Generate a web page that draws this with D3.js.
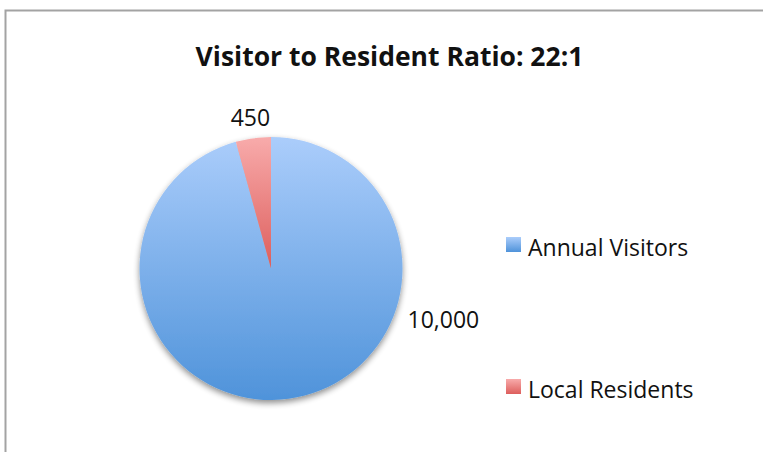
<!DOCTYPE html>
<html>
<head>
<meta charset="utf-8">
<script src="https://cdn.jsdelivr.net/npm/d3@7"></script>
<style>
  html, body { margin: 0; padding: 0; background: #fff; overflow: hidden; }
  svg { display: block; }
  text { font-family: "Open Sans", "Liberation Sans", sans-serif; fill: #111; }
</style>
</head>
<body>
<svg id="chart" width="763" height="452"></svg>
<script>
// Chart data
const categories = ["Annual Visitors", "Local Residents"];
const values = [10000, 450];
const valueLabels = ["10,000", "450"];
const title = "Visitor to Resident Ratio: 22:1";

const W = 763, H = 452;
const svg = d3.select("#chart");
const defs = svg.append("defs");

// Gradient fills for each series (light at top, darker at bottom)
const gradStops = [
  ["#abcdfb", "#4f93da"],
  ["#f8abab", "#dd5e5c"]
];
categories.forEach((c, i) => {
  const g = defs.append("linearGradient")
    .attr("id", "grad" + i)
    .attr("x1", 0).attr("y1", 0).attr("x2", 0).attr("y2", 1);
  g.append("stop").attr("offset", "0%").attr("stop-color", gradStops[i][0]);
  g.append("stop").attr("offset", "100%").attr("stop-color", gradStops[i][1]);
});

// Soft shadow under the pie
const shadow = defs.append("filter").attr("id", "shadow")
  .attr("x", "-20%").attr("y", "-20%").attr("width", "140%").attr("height", "140%");
shadow.append("feGaussianBlur").attr("in", "SourceAlpha").attr("stdDeviation", 3).attr("result", "blur");
shadow.append("feOffset").attr("in", "blur").attr("dx", 0).attr("dy", 3).attr("result", "off");
shadow.append("feComponentTransfer").attr("in", "off").attr("result", "shade")
  .append("feFuncA").attr("type", "linear").attr("slope", 0.45);
const merge = shadow.append("feMerge");
merge.append("feMergeNode").attr("in", "shade");
merge.append("feMergeNode").attr("in", "SourceGraphic");

// Chart frame (open at right and bottom edges of the view)
svg.append("path")
  .attr("d", `M5.5,${H + 5} V10.5 H${W + 5}`)
  .attr("fill", "none")
  .attr("stroke", "#a3a3a3")
  .attr("stroke-width", 2);

// Title
svg.append("text")
  .attr("x", 389.5).attr("y", 66)
  .attr("text-anchor", "middle")
  .attr("font-weight", "bold")
  .attr("font-size", 26.5)
  .text(title);

// Pie
const cx = 271, cy = 268.5, R = 131.5;
const pie = d3.pie().sort(null).value(d => d)(values);
const arc = d3.arc().innerRadius(0).outerRadius(R);

// Blue gradient spans the whole pie, red uses its own slice box
const full = defs.append("linearGradient")
  .attr("id", "gradFull")
  .attr("gradientUnits", "userSpaceOnUse")
  .attr("x1", 0).attr("y1", -R).attr("x2", 0).attr("y2", R);
full.append("stop").attr("offset", "0%").attr("stop-color", gradStops[0][0]);
full.append("stop").attr("offset", "100%").attr("stop-color", gradStops[0][1]);

const pieG = svg.append("g").attr("transform", `translate(${cx},${cy})`);
const slicesG = pieG.append("g").attr("filter", "url(#shadow)");

slicesG.selectAll("path.slice")
  .data(pie)
  .join("path")
  .attr("class", "slice")
  .attr("d", arc)
  .attr("fill", (d, i) => i === 0 ? "url(#gradFull)" : "url(#grad1)");

// Data labels: the small slice is labelled outside its mid-angle,
// the large slice is labelled beside the pie's right edge.
const labelAngle = [Math.PI * 0.59, null];
pie.forEach((d, i) => {
  const a = labelAngle[i] !== null ? labelAngle[i] : (d.startAngle + d.endAngle) / 2;
  const rr = i === 0 ? R + 48 : R + 21;
  const x = Math.sin(a) * rr;
  const y = -Math.cos(a) * rr;
  pieG.append("text")
    .attr("x", x).attr("y", y)
    .attr("text-anchor", "middle")
    .attr("dominant-baseline", "central")
    .attr("font-size", 23)
    .text(valueLabels[i]);
});

// Legend
const legend = svg.append("g").attr("transform", "translate(506,237)");
const legendStep = 142;
categories.forEach((c, i) => {
  const g = legend.append("g").attr("transform", `translate(0,${i * legendStep})`);
  g.append("rect")
    .attr("width", 15).attr("height", 15)
    .attr("fill", `url(#grad${i})`);
  g.append("text")
    .attr("x", 22).attr("y", 19)
    .attr("font-size", 23)
    .text(c);
});
</script>
</body>
</html>
